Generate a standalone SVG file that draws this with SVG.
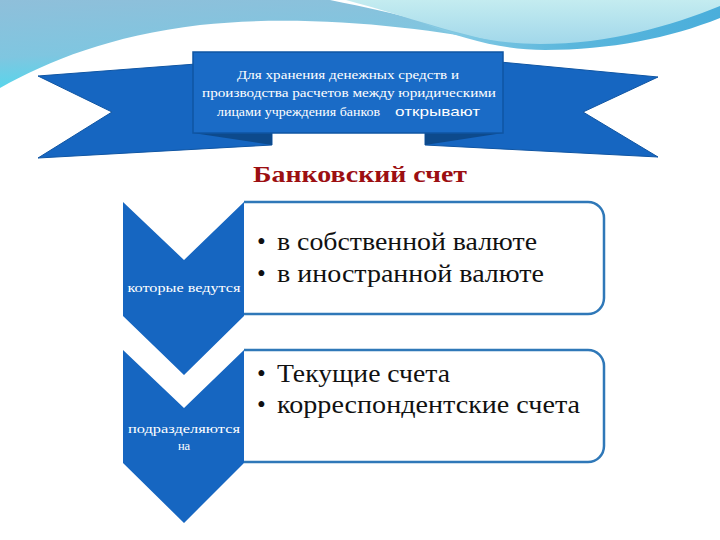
<svg xmlns="http://www.w3.org/2000/svg" width="720" height="540" viewBox="0 0 720 540">
<defs>
<linearGradient id="gL" x1="0" y1="0" x2="0.3" y2="1">
<stop offset="0" stop-color="#8fbfda"/>
<stop offset="0.6" stop-color="#7fc6e0"/>
<stop offset="1" stop-color="#4fd9ee"/>
</linearGradient>
<linearGradient id="gR" x1="0" y1="0" x2="0" y2="1">
<stop offset="0" stop-color="#c4ecf0"/>
<stop offset="1" stop-color="#9fd6ea"/>
</linearGradient>
<linearGradient id="gB" x1="0" y1="0" x2="1" y2="0">
<stop offset="0" stop-color="#8fcfe6"/>
<stop offset="0.5" stop-color="#5ab6dc"/>
<stop offset="1" stop-color="#4aaedb"/>
</linearGradient>
<style>
.rib{fill:#1666c1;stroke:#0f55a3;stroke-width:1}
.fold{fill:#0d4a8c}
.chev{fill:#1666c1}
.box{fill:#fff;stroke:#2f78b8;stroke-width:2.5}
.rt{fill:#fff;font-size:12.5px}
.lbl{fill:#fff;font-size:12.5px;text-anchor:middle}
.bt{fill:#111;font-size:25px}
.title{font-weight:bold;fill:#9c0f12;font-size:23px}
</style>
</defs>
<rect width="720" height="540" fill="#ffffff"/>
<g id="background">
<path d="M0,0 L330,0 C400,14 460,30 506,44 C420,26 300,14 200,25 C110,36 50,60 0,88 Z" fill="url(#gL)"/>
<path d="M346,0 L720,0 L720,10 C650,38 590,48 540,47 C480,44 420,20 346,0 Z" fill="url(#gR)"/>
<path d="M420,22 C460,36 500,44 540,44 C610,44 670,26 720,6 L720,18 C670,38 610,50 545,50 C505,50 465,40 420,22 Z" fill="url(#gB)"/>
</g>
<g id="ribbon" font-family="'Liberation Serif', 'DejaVu Serif', serif">
<polygon class="rib" points="38,76 196,64 272,100 272,145 38,158 112,112"/>
<polygon class="rib" points="658,77 500,62 425,100 425,145 658,157 583,112"/>
<polygon class="fold" points="193,133 272,133 272,145"/>
<polygon class="fold" points="425,133 503,133 425,145"/>
<rect x="193" y="52" width="310" height="81" fill="#1a6bc6" stroke="#0f55a3" stroke-width="1.5"/>
<text class="rt" font-family="'Liberation Serif', 'DejaVu Serif', serif" x="348" y="79" text-anchor="middle" textLength="222" lengthAdjust="spacingAndGlyphs">Для хранения денежных средств и</text>
<text class="rt" font-family="'Liberation Serif', 'DejaVu Serif', serif" x="202" y="97" textLength="294" lengthAdjust="spacingAndGlyphs">производства расчетов между юридическими</text>
<text class="rt" font-family="'Liberation Serif', 'DejaVu Serif', serif" x="217" y="116" textLength="163" lengthAdjust="spacingAndGlyphs">лицами учреждения банков</text>
<text x="395" y="116" font-family="'Liberation Sans', sans-serif" font-size="13.5" fill="#fff" textLength="85" lengthAdjust="spacingAndGlyphs">открывают</text>
</g>
<text class="title" font-family="'Liberation Serif', 'DejaVu Serif', serif" x="253" y="182" textLength="214" lengthAdjust="spacingAndGlyphs">Банковский счет</text>
<g id="box1" font-family="'Liberation Serif', 'DejaVu Serif', serif">
<path class="box" d="M244,202 H588 A16,16 0 0 1 604,218 V298 A16,16 0 0 1 588,314 H244"/>
<text class="bt" font-family="'Liberation Serif', 'DejaVu Serif', serif" x="257" y="250">•</text>
<text class="bt" font-family="'Liberation Serif', 'DejaVu Serif', serif" x="277" y="250" textLength="260" lengthAdjust="spacingAndGlyphs">в собственной валюте</text>
<text class="bt" font-family="'Liberation Serif', 'DejaVu Serif', serif" x="257" y="282">•</text>
<text class="bt" font-family="'Liberation Serif', 'DejaVu Serif', serif" x="277" y="282" textLength="267" lengthAdjust="spacingAndGlyphs">в иностранной валюте</text>
</g>
<g id="box2" font-family="'Liberation Serif', 'DejaVu Serif', serif">
<path class="box" d="M244,350 H588 A16,16 0 0 1 604,366 V446 A16,16 0 0 1 588,462 H244"/>
<text class="bt" font-family="'Liberation Serif', 'DejaVu Serif', serif" x="257" y="382">•</text>
<text class="bt" font-family="'Liberation Serif', 'DejaVu Serif', serif" x="277" y="382" textLength="173" lengthAdjust="spacingAndGlyphs">Текущие счета</text>
<text class="bt" font-family="'Liberation Serif', 'DejaVu Serif', serif" x="257" y="413">•</text>
<text class="bt" font-family="'Liberation Serif', 'DejaVu Serif', serif" x="277" y="413" textLength="303" lengthAdjust="spacingAndGlyphs">корреспондентские счета</text>
</g>
<g id="chevron1" font-family="'Liberation Serif', 'DejaVu Serif', serif">
<polygon class="chev" points="123,202 184,260 244,202 244,316 184,375 123,316"/>
<text class="lbl" font-family="'Liberation Serif', 'DejaVu Serif', serif" x="184" y="292" textLength="113" lengthAdjust="spacingAndGlyphs">которые ведутся</text>
</g>
<g id="chevron2" font-family="'Liberation Serif', 'DejaVu Serif', serif">
<polygon class="chev" points="123,350 184,408 244,350 244,463 184,523 123,463"/>
<text class="lbl" font-family="'Liberation Serif', 'DejaVu Serif', serif" x="184" y="433" textLength="112" lengthAdjust="spacingAndGlyphs">подразделяются</text>
<text class="lbl" font-family="'Liberation Serif', 'DejaVu Serif', serif" x="184" y="450">на</text>
</g>
<g id="connectors"/>
</svg>
